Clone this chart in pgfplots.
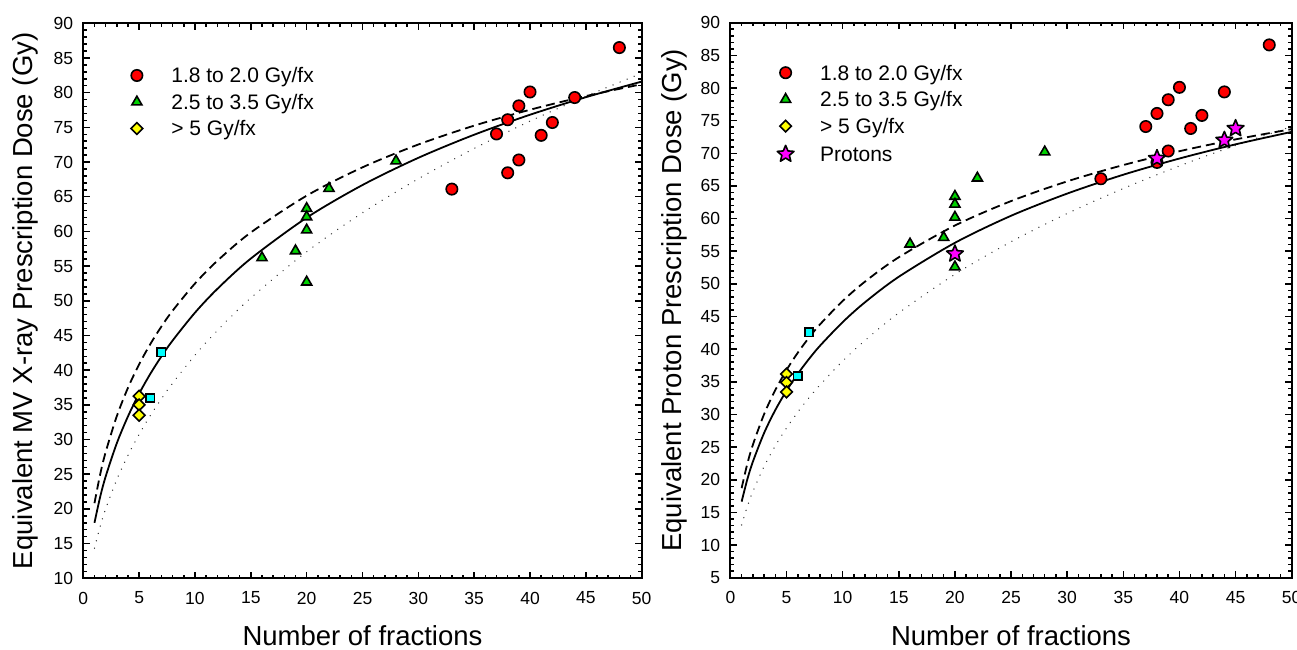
\documentclass[border=0pt]{standalone}
\usepackage{fontspec}
\setmainfont{Liberation Sans}
\usepackage{pgfplots}
\pgfplotsset{compat=1.18}

\definecolor{mkred}{RGB}{255,0,0}
\definecolor{mkgreen}{RGB}{0,210,0}
\definecolor{mkyellow}{RGB}{255,255,0}
\definecolor{mkcyan}{RGB}{0,255,255}
\definecolor{mkmag}{RGB}{255,0,255}
\definecolor{dotgray}{RGB}{60,60,60}

\pgfdeclareplotmark{fstar}{%
  \pgfpathmoveto{\pgfqpointpolar{90}{\pgfplotmarksize}}%
  \pgfpathlineto{\pgfqpointpolar{126}{0.45\pgfplotmarksize}}%
  \pgfpathlineto{\pgfqpointpolar{162}{\pgfplotmarksize}}%
  \pgfpathlineto{\pgfqpointpolar{198}{0.45\pgfplotmarksize}}%
  \pgfpathlineto{\pgfqpointpolar{234}{\pgfplotmarksize}}%
  \pgfpathlineto{\pgfqpointpolar{270}{0.45\pgfplotmarksize}}%
  \pgfpathlineto{\pgfqpointpolar{306}{\pgfplotmarksize}}%
  \pgfpathlineto{\pgfqpointpolar{342}{0.45\pgfplotmarksize}}%
  \pgfpathlineto{\pgfqpointpolar{18}{\pgfplotmarksize}}%
  \pgfpathlineto{\pgfqpointpolar{54}{0.45\pgfplotmarksize}}%
  \pgfpathclose
  \pgfusepathqfillstroke
}

\pgfplotsset{
  myaxis/.style={
    scale only axis, anchor=south west,
    height=555pt,
    xmin=0, xmax=50, xtick={0,5,...,50},
    minor x tick num=4, minor y tick num=4,
    tick align=inside,
    xtick pos=both, ytick pos=both,
    major tick length=6.5pt, minor tick length=3.5pt,
    every tick/.append style={black, line width=1.5pt},
    axis line style={line width=2pt},
    /pgf/number format/assume math mode=true,
    tick label style={font=\fontsize{17.5}{20}\selectfont, inner sep=0pt},
    xticklabel style={anchor=north, yshift=-13.4pt},
    yticklabel style={anchor=east, xshift=-10pt},
    label style={font=\fontsize{27.5}{30}\selectfont},
    legend style={draw=none, fill=none, inner sep=0pt, outer sep=0pt,
      anchor=north west, column sep=0pt,
      font=\fontsize{21}{24}\selectfont,
      nodes={inner sep=0pt, text height=15pt, text depth=4.5pt},
      cells={anchor=base west}},
    legend image code/.code={\path (-10pt,0pt) (34.3pt,0pt); \draw[##1] plot coordinates {(0pt,7.5pt)};},
  },
  solidc/.style={black, line width=1.8pt, smooth, no marks, forget plot},
  dashc/.style={black, line width=1.8pt, dash pattern=on 9pt off 5pt, smooth, no marks, forget plot},
  dotc/.style={dotgray, line width=1.4pt, line cap=round, dash pattern=on 0.1pt off 7.5pt, smooth, no marks, forget plot},
  redm/.style={only marks, mark=*, mark size=5.7pt, mark options={draw=black, fill=mkred, line width=1.6pt, solid}},
  greenm/.style={only marks, mark=triangle*, mark size=5.8pt, mark options={draw=black, fill=mkgreen, line width=1.6pt, solid}},
  yellowm/.style={only marks, mark=square*, mark size=4.1pt, mark options={draw=black, fill=mkyellow, line width=1.6pt, rotate=45, solid}},
  cyanm/.style={only marks, mark=square*, mark size=4.2pt, mark options={draw=black, fill=mkcyan, line width=1.6pt, solid}},
  starm/.style={only marks, mark=fstar, mark size=8.8pt, mark options={draw=black, fill=mkmag, line width=1.6pt, line join=round, solid}},
}

\begin{document}
\begin{tikzpicture}
\useasboundingbox (0pt,0pt) rectangle (1297pt,649pt);

% ---------------- Left panel ----------------
\begin{axis}[myaxis,
  at={(83.3pt,70.7pt)}, width=558.4pt,
  ymin=10, ymax=90, ytick={10,15,...,90},
  xlabel={Number of fractions},
  ylabel={Equivalent MV X-ray Prescription Dose (Gy)},
  xlabel style={at={([yshift=-67.5pt]axis description cs:0.5,0)}, anchor=base},
  ylabel style={at={([xshift=-50.3pt]axis description cs:0,0.5)}, anchor=base, rotate=0},
  legend style={at={(0.0777,0.9195)}, row sep=7pt},
]
\addplot[dotc] coordinates {(1,14.34) (1.5,17.43) (2,20.0) (3,24.23) (4,27.73) (5,30.75) (6,33.45) (7,35.89) (8,38.13) (10,42.16) (12,45.72) (15,50.42) (20,57.07) (25,62.69) (30,67.59) (35,71.96) (40,75.9) (45,79.49) (50,82.8)};
\addplot[dashc] coordinates {(1,20.83) (1.5,24.9) (2,28.18) (3,33.37) (4,37.46) (5,40.85) (6,43.76) (7,46.31) (8,48.58) (10,52.49) (12,55.76) (15,59.85) (20,65.15) (25,69.24) (30,72.53) (35,75.25) (40,77.54) (45,79.51) (50,81.22)};
\addplot[solidc] coordinates {(1,18.0) (1.5,21.67) (2,24.66) (3,29.47) (4,33.34) (5,36.62) (6,39.47) (7,42.0) (8,44.28) (10,48.29) (12,51.71) (15,56.09) (20,61.98) (25,66.69) (30,70.61) (35,73.94) (40,76.82) (45,79.35) (50,81.6)};
\addplot[redm] coordinates {(33,66.1) (37,74.05) (38,76.1) (38,68.45) (39,78.1) (39,70.3) (40,80.1) (41,73.85) (42,75.7) (44,79.3) (48,86.5)};
\addlegendentry{1.8 to 2.0 Gy/fx}
\addplot[greenm] coordinates {(16,56.2) (19,57.2) (20,63.3) (20,62.1) (20,60.2) (20,52.7) (22,66.2) (28,70.15)};
\addlegendentry{2.5 to 3.5 Gy/fx}
\addplot[yellowm] coordinates {(5,36.25) (5,35.0) (5,33.5)};
\addlegendentry{> 5 Gy/fx}
\addplot[cyanm, forget plot] coordinates {(6,36.0) (7,42.6)};
\end{axis}

% ---------------- Right panel ----------------
\begin{axis}[myaxis,
  at={(730.4pt,71.3pt)}, width=561.3pt,
  ymin=5, ymax=90, ytick={5,10,...,90},
  xlabel={Number of fractions},
  ylabel={Equivalent Proton Prescription Dose (Gy)},
  xlabel style={at={([yshift=-68.1pt]axis description cs:0.5,0)}, anchor=base},
  ylabel style={at={([xshift=-49.1pt]axis description cs:0,0.5)}, anchor=base, rotate=0},
  legend style={at={(0.0802,0.9234)}, row sep=7.2pt},
]
\addplot[dotc] coordinates {(1,13.07) (1.5,15.88) (2,18.2) (3,22.04) (4,25.2) (5,27.93) (6,30.35) (7,32.55) (8,34.56) (10,38.18) (12,41.36) (15,45.56) (20,51.47) (25,56.45) (30,60.78) (35,64.61) (40,68.07) (45,71.21) (50,74.1)};
\addplot[dashc] coordinates {(1,18.72) (1.5,22.4) (2,25.35) (3,30.04) (4,33.74) (5,36.81) (6,39.45) (7,41.77) (8,43.83) (10,47.38) (12,50.36) (15,54.08) (20,58.94) (25,62.68) (30,65.7) (35,68.2) (40,70.32) (45,72.13) (50,73.7)};
\addplot[solidc] coordinates {(1,16.65) (1.5,20.02) (2,22.76) (3,27.16) (4,30.68) (5,33.64) (6,36.22) (7,38.5) (8,40.56) (10,44.14) (12,47.2) (15,51.09) (20,56.29) (25,60.43) (30,63.83) (35,66.72) (40,69.2) (45,71.37) (50,73.28)};
\addplot[redm] coordinates {(33,66.1) (37,74.1) (38,76.1) (38,68.6) (39,78.2) (39,70.35) (40,80.1) (41,73.8) (42,75.8) (44,79.4) (48,86.6)};
\addlegendentry{1.8 to 2.0 Gy/fx}
\addplot[greenm] coordinates {(16,56.1) (19,57.1) (20,63.4) (20,62.2) (20,60.2) (20,52.6) (22,66.2) (28,70.2)};
\addlegendentry{2.5 to 3.5 Gy/fx}
\addplot[yellowm] coordinates {(5,36.2) (5,34.9) (5,33.45)};
\addlegendentry{> 5 Gy/fx}
\addplot[cyanm, forget plot] coordinates {(6,35.9) (7,42.6)};
\addplot[starm] coordinates {(20,54.6) (38,69.2) (44,72.0) (45,73.8)};
\addlegendentry{Protons}
\end{axis}
\end{tikzpicture}
\end{document}
